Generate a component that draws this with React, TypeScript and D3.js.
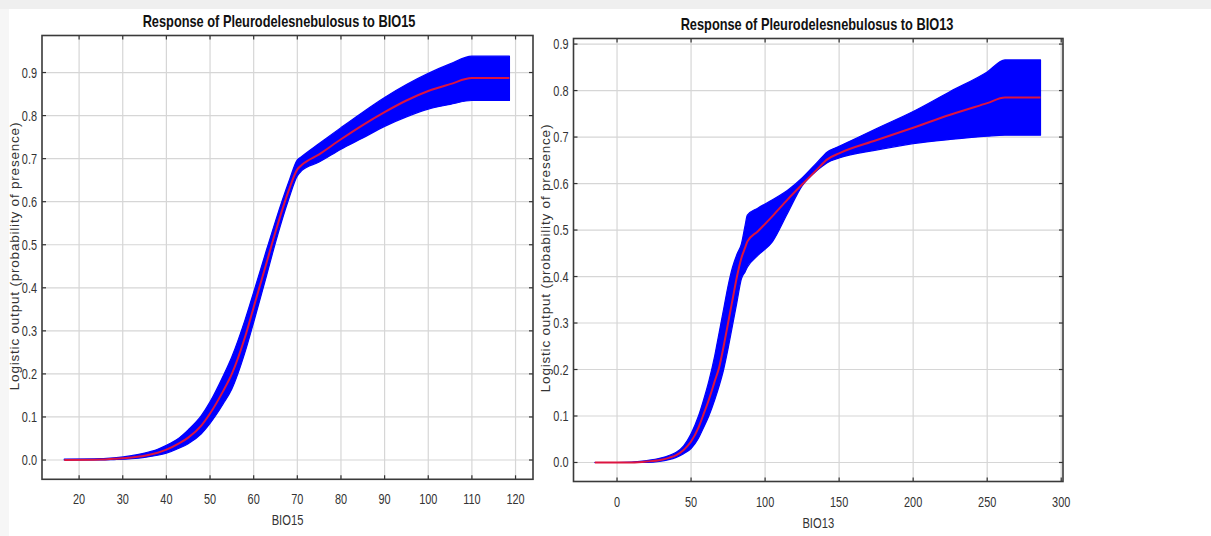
import React from "react";
import * as d3 from "d3";

// ---- BIO15 response (left panel) ----
const bio15X = [16.6, 25, 28, 32, 35, 38, 40, 43, 45, 48, 50, 53, 55, 58, 60, 63, 65, 68, 70, 71, 75, 80, 85, 90, 95, 100, 105, 110, 118.6];
const bio15Mean = [0.0, 0.001, 0.003, 0.006, 0.01, 0.017, 0.024, 0.039, 0.052, 0.08, 0.108, 0.16, 0.2, 0.285, 0.355, 0.46, 0.53, 0.625, 0.675, 0.685, 0.71, 0.745, 0.778, 0.808, 0.835, 0.857, 0.873, 0.887, 0.887];
const bio15Upper = [0.002, 0.003, 0.005, 0.01, 0.016, 0.025, 0.034, 0.052, 0.07, 0.103, 0.135, 0.195, 0.24, 0.325, 0.39, 0.49, 0.555, 0.645, 0.697, 0.705, 0.735, 0.772, 0.808, 0.842, 0.872, 0.898, 0.92, 0.938, 0.938];
const bio15Lower = [0.0, 0.0, 0.001, 0.003, 0.006, 0.011, 0.016, 0.028, 0.038, 0.061, 0.085, 0.13, 0.165, 0.25, 0.32, 0.43, 0.505, 0.605, 0.66, 0.672, 0.692, 0.722, 0.748, 0.775, 0.797, 0.815, 0.826, 0.835, 0.835];
const bio15Ticks = [20, 30, 40, 50, 60, 70, 80, 90, 100, 110, 120];

// ---- BIO13 response (right panel) ----
const bio13X = [-15, 0, 10, 20, 30, 35, 40, 45, 50, 55, 58, 62, 66, 69, 72, 75, 78, 81, 84, 86.5, 88, 95, 105, 115, 125, 135, 142, 150, 175, 200, 225, 250, 262, 286];
const bio13Mean = [0, 0, 0, 0.002, 0.006, 0.01, 0.016, 0.027, 0.045, 0.075, 0.1, 0.135, 0.175, 0.205, 0.25, 0.3, 0.35, 0.4, 0.44, 0.462, 0.475, 0.497, 0.53, 0.565, 0.598, 0.63, 0.652, 0.665, 0.693, 0.72, 0.748, 0.773, 0.785, 0.785];
const bio13Upper = [0, 0, 0.001, 0.004, 0.01, 0.015, 0.022, 0.036, 0.062, 0.1, 0.13, 0.175, 0.23, 0.28, 0.33, 0.38, 0.42, 0.448, 0.47, 0.51, 0.532, 0.547, 0.565, 0.585, 0.612, 0.645, 0.668, 0.68, 0.718, 0.755, 0.798, 0.84, 0.866, 0.866];
const bio13Lower = [0, 0, 0, 0, 0.003, 0.006, 0.011, 0.019, 0.03, 0.052, 0.072, 0.1, 0.135, 0.165, 0.2, 0.245, 0.295, 0.345, 0.395, 0.41, 0.42, 0.445, 0.475, 0.535, 0.595, 0.628, 0.645, 0.655, 0.672, 0.686, 0.695, 0.702, 0.704, 0.704];
const bio13Ticks = [0, 50, 100, 150, 200, 250, 300];

const yTicks = [0, 0.1, 0.2, 0.3, 0.4, 0.5, 0.6, 0.7, 0.8, 0.9];

const SPECIES = "Pleurodelesnebulosus";
const Y_LABEL = "Logistic output (probability of presence)";

const SANS = "'Liberation Sans', Arial, sans-serif";

// Text squeezed horizontally to get a condensed face
function NarrowText(props: {
  x: number;
  y: number;
  anchor: "start" | "middle" | "end";
  size: number;
  squeeze: number;
  bold?: boolean;
  fill?: string;
  children: React.ReactNode;
}) {
  return (
    <g transform={`translate(${props.x},${props.y}) scale(${props.squeeze},1)`}>
      <text
        x={0}
        y={0}
        textAnchor={props.anchor}
        fontFamily={SANS}
        fontSize={props.size}
        fontWeight={props.bold ? "bold" : "normal"}
        fill={props.fill ?? "#333"}
      >
        {props.children}
      </text>
    </g>
  );
}

type PanelProps = {
  left: number;
  right: number;
  top: number;
  bottom: number;
  xDomain: [number, number];
  yDomain: [number, number];
  xs: number[];
  mean: number[];
  upper: number[];
  lower: number[];
  xTicks: number[];
  variable: string;
  titleX: number;
  titleY: number;
  yLabelX: number;
  yLabelY: number;
  xLabelY: number;
};

function Panel(p: PanelProps) {
  const x = d3.scaleLinear().domain(p.xDomain).range([p.left, p.right]);
  const y = d3.scaleLinear().domain(p.yDomain).range([p.bottom, p.top]);

  const idx = d3.range(p.xs.length);
  const band = d3
    .area<number>()
    .x((i) => x(p.xs[i]))
    .y0((i) => y(p.lower[i]))
    .y1((i) => y(p.upper[i]))
    .curve(d3.curveMonotoneX);
  const line = d3
    .line<number>()
    .x((i) => x(p.xs[i]))
    .y((i) => y(p.mean[i]))
    .curve(d3.curveMonotoneX);

  const tickLen = 4;
  const fmtY = d3.format(".1f");

  return (
    <g>
      {/* grid */}
      {p.xTicks.map((t) => (
        <line key={"gx" + t} x1={x(t)} x2={x(t)} y1={p.top} y2={p.bottom} stroke="#d6d6d6" strokeWidth={1.2} />
      ))}
      {yTicks.map((t) => (
        <line key={"gy" + t} x1={p.left} x2={p.right} y1={y(t)} y2={y(t)} stroke="#d6d6d6" strokeWidth={1.2} />
      ))}

      {/* confidence band and mean response */}
      <path d={band(idx) ?? ""} fill="#0000ff" stroke="#0000ff" strokeWidth={1.2} strokeLinejoin="round" />
      <path d={line(idx) ?? ""} fill="none" stroke="#dc1440" strokeWidth={2} strokeLinejoin="round" />

      {/* inward tick marks on all four sides */}
      {p.xTicks.map((t) => (
        <g key={"tx" + t} stroke="#333" strokeWidth={1.2}>
          <line x1={x(t)} x2={x(t)} y1={p.bottom} y2={p.bottom - tickLen} />
          <line x1={x(t)} x2={x(t)} y1={p.top} y2={p.top + tickLen} />
        </g>
      ))}
      {yTicks.map((t) => (
        <g key={"ty" + t} stroke="#333" strokeWidth={1.2}>
          <line x1={p.left} x2={p.left + tickLen} y1={y(t)} y2={y(t)} />
          <line x1={p.right} x2={p.right - tickLen} y1={y(t)} y2={y(t)} />
        </g>
      ))}

      {/* frame */}
      <rect x={p.left} y={p.top} width={p.right - p.left} height={p.bottom - p.top} fill="none" stroke="#3a3a3a" strokeWidth={1.6} />

      {/* tick labels */}
      {p.xTicks.map((t) => (
        <NarrowText key={"lx" + t} x={x(t)} y={p.bottom + 25} anchor="middle" size={14} squeeze={0.78}>
          {t}
        </NarrowText>
      ))}
      {yTicks.map((t) => (
        <NarrowText key={"ly" + t} x={p.left - 5} y={y(t) + 5} anchor="end" size={14} squeeze={0.78}>
          {fmtY(t)}
        </NarrowText>
      ))}

      {/* titles */}
      <NarrowText x={p.titleX} y={p.titleY} anchor="middle" size={16} squeeze={0.8} bold fill="#111">
        {`Response of ${SPECIES} to ${p.variable}`}
      </NarrowText>
      <NarrowText x={(p.left + p.right) / 2} y={p.xLabelY} anchor="middle" size={14} squeeze={0.8}>
        {p.variable}
      </NarrowText>
      <text
        transform={`translate(${p.yLabelX},${p.yLabelY}) rotate(-90)`}
        textAnchor="middle"
        fontFamily={SANS}
        fontSize={13.5}
        letterSpacing={0.8}
        fill="#333"
      >
        {Y_LABEL}
      </text>
    </g>
  );
}

export default function App() {
  return (
    <svg
      width={1211}
      height={536}
      viewBox="0 0 1211 536"
      style={{ position: "absolute", left: 0, top: 0, background: "#fff" }}
    >
      <rect x={0} y={0} width={1211} height={536} fill="#fff" />
      <rect x={0} y={0} width={1211} height={9} fill="#efefef" />
      <rect x={0} y={9} width={9} height={527} fill="#f6f6f6" />
      <Panel
        left={42}
        right={533}
        top={35.5}
        bottom={479.3}
        xDomain={[11.5, 124.0]}
        yDomain={[-0.0448, 0.986]}
        xs={bio15X}
        mean={bio15Mean}
        upper={bio15Upper}
        lower={bio15Lower}
        xTicks={bio15Ticks}
        variable="BIO15"
        titleX={279}
        titleY={27}
        yLabelX={19}
        yLabelY={256}
        xLabelY={525}
      />
      <Panel
        left={573.5}
        right={1063}
        top={38.5}
        bottom={481.5}
        xDomain={[-29.4, 301.2]}
        yDomain={[-0.0409, 0.912]}
        xs={bio13X}
        mean={bio13Mean}
        upper={bio13Upper}
        lower={bio13Lower}
        xTicks={bio13Ticks}
        variable="BIO13"
        titleX={817}
        titleY={30}
        yLabelX={550}
        yLabelY={258}
        xLabelY={528}
      />
    </svg>
  );
}
